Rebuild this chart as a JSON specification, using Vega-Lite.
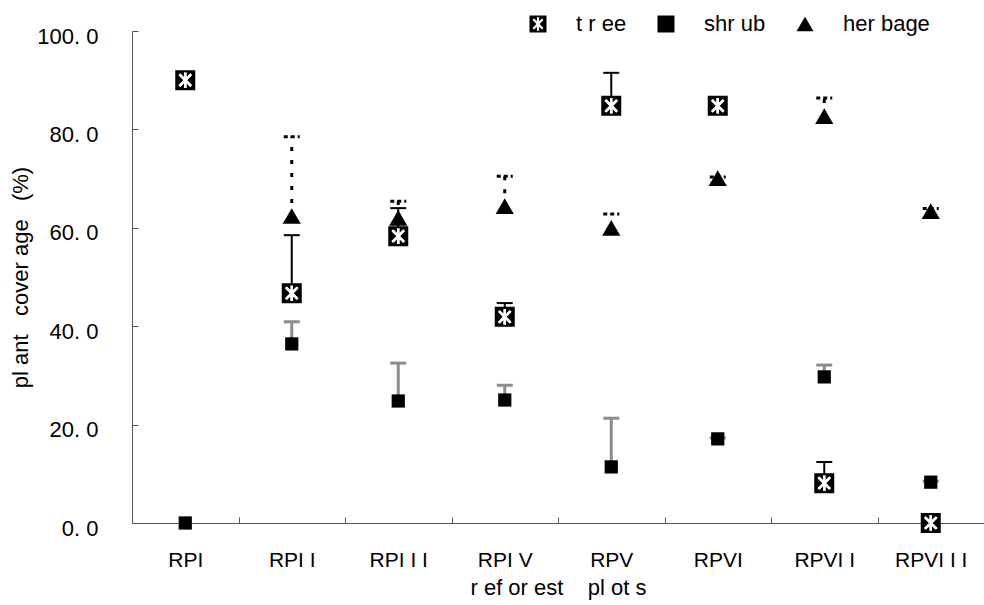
{
  "$schema": "https://vega.github.io/schema/vega-lite/v6.json",
  "autosize": {"type": "none"},
  "padding": {"left": 132, "top": 31, "right": 0, "bottom": 82},
  "width": 852,
  "height": 492,
  "config": {
    "font": "Liberation Sans",
    "view": {"stroke": null},
    "axis": {"domainColor": "#555", "tickColor": "#555", "labelColor": "#000", "titleColor": "#000", "titleFontWeight": "normal", "grid": false},
    "legend": {"symbolSize": 289, "symbolFillColor": "black", "symbolStrokeWidth": 0, "labelFontSize": 22, "labelColor": "#000"}
  },
  "data": {
    "values": [
      {"plot": "RPI", "type": "tree", "value": 90.0, "top": null},
      {"plot": "RPI", "type": "shrub", "value": 0.0, "top": null},
      {"plot": "RPII", "type": "tree", "value": 46.7, "top": 58.5},
      {"plot": "RPII", "type": "shrub", "value": 36.4, "top": 40.9},
      {"plot": "RPII", "type": "herbage", "value": 62.4, "top": 78.5},
      {"plot": "RPIII", "type": "tree", "value": 58.3, "top": 64.0},
      {"plot": "RPIII", "type": "shrub", "value": 24.8, "top": 32.5},
      {"plot": "RPIII", "type": "herbage", "value": 62.0, "top": 65.4},
      {"plot": "RPIV", "type": "tree", "value": 41.9, "top": 44.7},
      {"plot": "RPIV", "type": "shrub", "value": 25.0, "top": 28.0},
      {"plot": "RPIV", "type": "herbage", "value": 64.4, "top": 70.5},
      {"plot": "RPV", "type": "tree", "value": 84.8, "top": 91.5},
      {"plot": "RPV", "type": "shrub", "value": 11.4, "top": 21.3},
      {"plot": "RPV", "type": "herbage", "value": 60.0, "top": 62.8},
      {"plot": "RPVI", "type": "tree", "value": 84.8, "top": null},
      {"plot": "RPVI", "type": "shrub", "value": 17.1, "top": 17.3},
      {"plot": "RPVI", "type": "herbage", "value": 70.1, "top": 70.3},
      {"plot": "RPVII", "type": "tree", "value": 8.1, "top": 12.4},
      {"plot": "RPVII", "type": "shrub", "value": 29.7, "top": 32.1},
      {"plot": "RPVII", "type": "herbage", "value": 82.7, "top": 86.4},
      {"plot": "RPVIII", "type": "tree", "value": 0.0, "top": null},
      {"plot": "RPVIII", "type": "shrub", "value": 8.3, "top": 8.5},
      {"plot": "RPVIII", "type": "herbage", "value": 63.4, "top": 63.9}
    ]
  },
  "encoding": {
    "x": {
      "field": "plot", "type": "nominal",
      "sort": ["RPI", "RPII", "RPIII", "RPIV", "RPV", "RPVI", "RPVII", "RPVIII"],
      "scale": {"paddingInner": 0, "paddingOuter": 0},
      "axis": {
        "title": "r ef or est\u00a0\u00a0\u00a0 pl ot s",
        "titleFontSize": 22, "titlePadding": 7,
        "labelFontSize": 21, "labelPadding": 32, "labelAngle": 0,
        "tickBand": "extent", "tickSize": -6,
        "labelExpr": "datum.value == 'RPII' ? 'RPI I' : datum.value == 'RPIII' ? 'RPI I I' : datum.value == 'RPIV' ? 'RPI V' : datum.value == 'RPVII' ? 'RPVI I' : datum.value == 'RPVIII' ? 'RPVI I I' : datum.value"
      }
    },
    "y": {
      "field": "value", "type": "quantitative",
      "scale": {"domain": [0, 100], "nice": false},
      "axis": {
        "title": "pl ant\u00a0\u00a0 cover age\u00a0\u00a0 (%)",
        "titleFontSize": 22, "titlePadding": 4,
        "values": [0, 20, 40, 60, 80, 100],
        "labelFontSize": 22, "labelPadding": 40, "labelOffset": 5,
        "tickSize": -6,
        "labelExpr": "replace(format(datum.value, '.1f'), '.', '. ')"
      }
    }
  },
  "layer": [
    {
      "transform": [{"filter": "datum.type == 'herbage' && datum.top != null"}],
      "mark": {"type": "rule", "color": "black", "strokeWidth": 3, "strokeDash": [4, 9]},
      "encoding": {"y2": {"field": "top"}}
    },
    {
      "transform": [{"filter": "datum.type == 'shrub' && datum.top != null"}],
      "mark": {"type": "rule", "color": "#8c8c8c", "strokeWidth": 3},
      "encoding": {"y2": {"field": "top"}}
    },
    {
      "transform": [{"filter": "datum.type == 'tree' && datum.top != null"}],
      "mark": {"type": "rule", "color": "black", "strokeWidth": 2},
      "encoding": {"y2": {"field": "top"}}
    },
    {
      "transform": [{"filter": "datum.type == 'herbage' && datum.top != null"}],
      "mark": {"type": "point", "shape": "stroke", "size": 256, "filled": false, "stroke": "black", "strokeWidth": 3, "strokeDash": [4, 3], "opacity": 1},
      "encoding": {"y": {"field": "top", "type": "quantitative"}}
    },
    {
      "transform": [{"filter": "datum.type == 'shrub' && datum.top != null"}],
      "mark": {"type": "point", "shape": "stroke", "size": 256, "filled": false, "stroke": "#8c8c8c", "strokeWidth": 3, "opacity": 1},
      "encoding": {"y": {"field": "top", "type": "quantitative"}}
    },
    {
      "transform": [{"filter": "datum.type == 'tree' && datum.top != null"}],
      "mark": {"type": "point", "shape": "stroke", "size": 256, "filled": false, "stroke": "black", "strokeWidth": 2, "opacity": 1},
      "encoding": {"y": {"field": "top", "type": "quantitative"}}
    },
    {
      "transform": [{"filter": "datum.type == 'herbage'"}],
      "mark": {"type": "point", "filled": true, "color": "black", "opacity": 1, "strokeWidth": 0, "size": 330},
      "encoding": {
        "shape": {
          "field": "type", "type": "nominal",
          "scale": {
            "domain": ["tree", "shrub", "herbage"],
            "range": ["M-1,-1H1V1H-1Z M0.13,-0.78 L-0.13,-0.78 L-0.13,-0.314 L-0.46,-0.643 L-0.643,-0.46 L-0.184,0 L-0.643,0.46 L-0.46,0.643 L-0.13,0.314 L-0.13,0.78 L0.13,0.78 L0.13,0.314 L0.46,0.643 L0.643,0.46 L0.184,0 L0.643,-0.46 L0.46,-0.643 L0.13,-0.314 Z", "square", "triangle-up"]
          },
          "legend": {
            "title": null,
            "orient": "none",
            "legendX": 395,
            "legendY": -18,
            "direction": "horizontal",
            "padding": 0,
            "labelOffset": 27,
            "columnPadding": 28,
            "labelExpr": "datum.label == 'tree' ? 't r ee' : datum.label == 'shrub' ? 'shr ub' : 'her bage'",
            "encode": {"symbols": {"update": {"size": {"signal": "datum.value == 'tree' ? 320 : datum.value == 'shrub' ? 175 : 270"}}}}
          }
        }
      }
    },
    {
      "transform": [{"filter": "datum.type == 'shrub'"}],
      "mark": {"type": "point", "filled": true, "color": "black", "opacity": 1, "strokeWidth": 0, "size": 175},
      "encoding": {"shape": {"field": "type", "type": "nominal"}}
    },
    {
      "transform": [{"filter": "datum.type == 'tree'"}],
      "mark": {"type": "point", "filled": true, "color": "black", "opacity": 1, "strokeWidth": 0, "size": 400},
      "encoding": {"shape": {"field": "type", "type": "nominal"}}
    },
    {
      "transform": [{"filter": "datum.type == 'tree'"}],
      "mark": {"type": "point", "shape": "M-0.6,-0.6L0.6,0.6M0.6,-0.6L-0.6,0.6M0,-0.78L0,0.78", "size": 400, "filled": false, "stroke": "white", "strokeWidth": 2.4, "opacity": 1}
    }
  ]
}
